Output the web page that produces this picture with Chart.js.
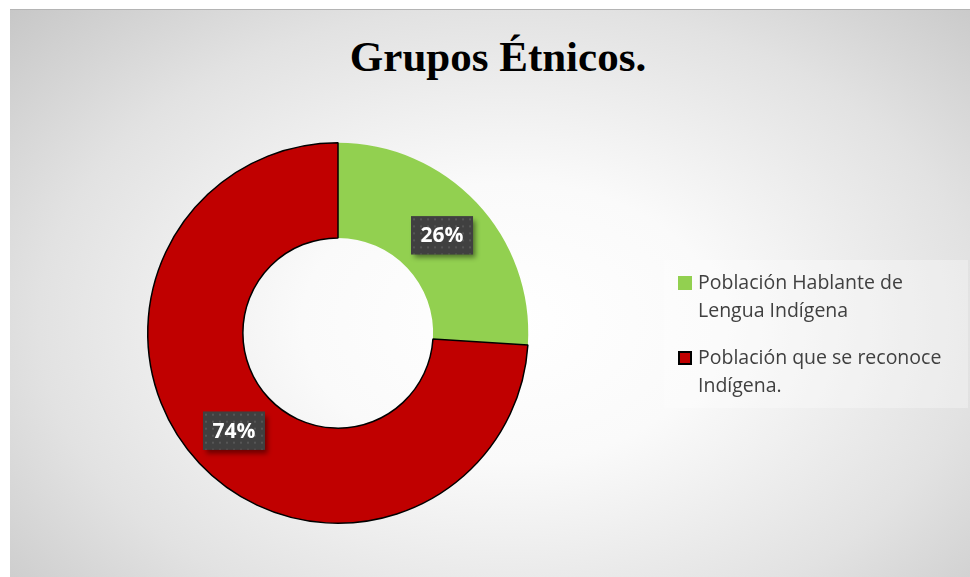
<!DOCTYPE html>
<html lang="es">
<head>
  <meta charset="UTF-8" />
  <title>Grupos Étnicos</title>
  <script src="https://cdn.jsdelivr.net/npm/chart.js"></script>
  <style>
    html, body { margin: 0; padding: 0; background: #fff; }
    #wrap { position: relative; width: 970px; height: 577px; overflow: hidden; }
    #panel {
      position: absolute; left: 10px; top: 9px; width: 960px; height: 567px;
      background: radial-gradient(ellipse 72% 82% at 52% 55%, #ffffff 0%, #fafafa 30%, #e2e2e2 68%, #c6c6c6 100%);
      border-top: 1px solid #b4b4b4;
    }
    #title {
      position: absolute; left: 0; top: 32px; width: 996px; text-align: center;
      font-family: "Liberation Serif", "DejaVu Serif", serif; font-weight: bold;
      font-size: 43px; color: #000;
    }
    #chartBox { position: absolute; left: 0; top: 0; width: 970px; height: 577px; }
    #legend {
      position: absolute; left: 664px; top: 260px; width: 304px; height: 148px;
      background: rgba(255,255,255,0.3);
      font-family: "Open Sans", "Noto Sans", sans-serif; font-size: 19.5px;
      color: #404040; line-height: 28px;
    }
    .item { position: absolute; left: 14px; }
    .item span.box { position: absolute; left: 0; top: 8px; width: 14px; height: 14px; box-sizing: border-box; }
    .item div { margin-left: 20px; }
  </style>
</head>
<body>
  <div id="wrap">
    <div id="panel"></div>
    <div id="title">Grupos Étnicos.</div>
    <div id="chartBox"><canvas id="chart"></canvas></div>
    <div id="legend"></div>
  </div>

  <script>
    const categories = ["Población Hablante de Lengua Indígena", "Población que se reconoce Indígena."];
    const legendLines = [["Población Hablante de", "Lengua Indígena"], ["Población que se reconoce", "Indígena."]];
    const values = [26, 74];
    const sliceColors = ["#92d050", "#c00000"];
    const sliceBorders = [0, 1.5];

    // leyenda en HTML (texto en dos líneas como el original)
    const legend = document.getElementById("legend");
    const tops = [8, 83];
    legendLines.forEach((lines, i) => {
      const it = document.createElement("div");
      it.className = "item";
      it.style.top = tops[i] + "px";
      const b = document.createElement("span");
      b.className = "box";
      b.style.background = sliceColors[i];
      if (sliceBorders[i] > 0) b.style.border = "2px solid #000";
      it.appendChild(b);
      const t = document.createElement("div");
      t.innerHTML = lines.join("<br>");
      it.appendChild(t);
      legend.appendChild(it);
    });

    // patrón de puntos para las etiquetas
    function dotPattern(ctx) {
      const c = document.createElement("canvas");
      c.width = 7; c.height = 7;
      const p = c.getContext("2d");
      p.fillStyle = "#404040";
      p.fillRect(0, 0, 7, 7);
      p.fillStyle = "#565656";
      p.fillRect(2, 2, 2, 2);
      return ctx.createPattern(c, "repeat");
    }

    const pctLabels = {
      id: "pctLabels",
      afterDatasetsDraw(chart) {
        const ctx = chart.ctx;
        const meta = chart.getDatasetMeta(0);
        const total = values.reduce((a, b) => a + b, 0);
        const pat = dotPattern(ctx);
        meta.data.forEach((arc, i) => {
          const pos = arc.tooltipPosition();
          const w = 62, h = 38;
          const x = pos.x - w / 2, y = pos.y - h / 2;
          ctx.save();
          ctx.shadowColor = "rgba(0,0,0,0.45)";
          ctx.shadowBlur = 5;
          ctx.shadowOffsetX = 3;
          ctx.shadowOffsetY = 4;
          ctx.fillStyle = "#404040";
          ctx.fillRect(x, y, w, h);
          ctx.restore();
          ctx.save();
          ctx.fillStyle = pat;
          ctx.translate(x, y);
          ctx.fillRect(0, 0, w, h);
          ctx.restore();
          ctx.save();
          ctx.fillStyle = "#ffffff";
          ctx.font = "bold 21px 'Open Sans', 'Noto Sans', sans-serif";
          ctx.textAlign = "center";
          ctx.textBaseline = "middle";
          ctx.fillText(Math.round(values[i] / total * 100) + "%", pos.x, pos.y + 1);
          ctx.restore();
        });
      }
    };

    new Chart(document.getElementById("chart"), {
      type: "doughnut",
      data: {
        labels: categories,
        datasets: [{
          data: values,
          backgroundColor: sliceColors,
          borderColor: "#000000",
          borderWidth: sliceBorders,
          borderAlign: "center"
        }]
      },
      options: {
        responsive: true,
        maintainAspectRatio: false,
        animation: false,
        cutout: "50%",
        layout: { padding: { left: 147, right: 441, top: 142, bottom: 53 } },
        plugins: {
          legend: { display: false },
          title: { display: false },
          tooltip: { enabled: false }
        }
      },
      plugins: [pctLabels]
    });
  </script>
</body>
</html>
